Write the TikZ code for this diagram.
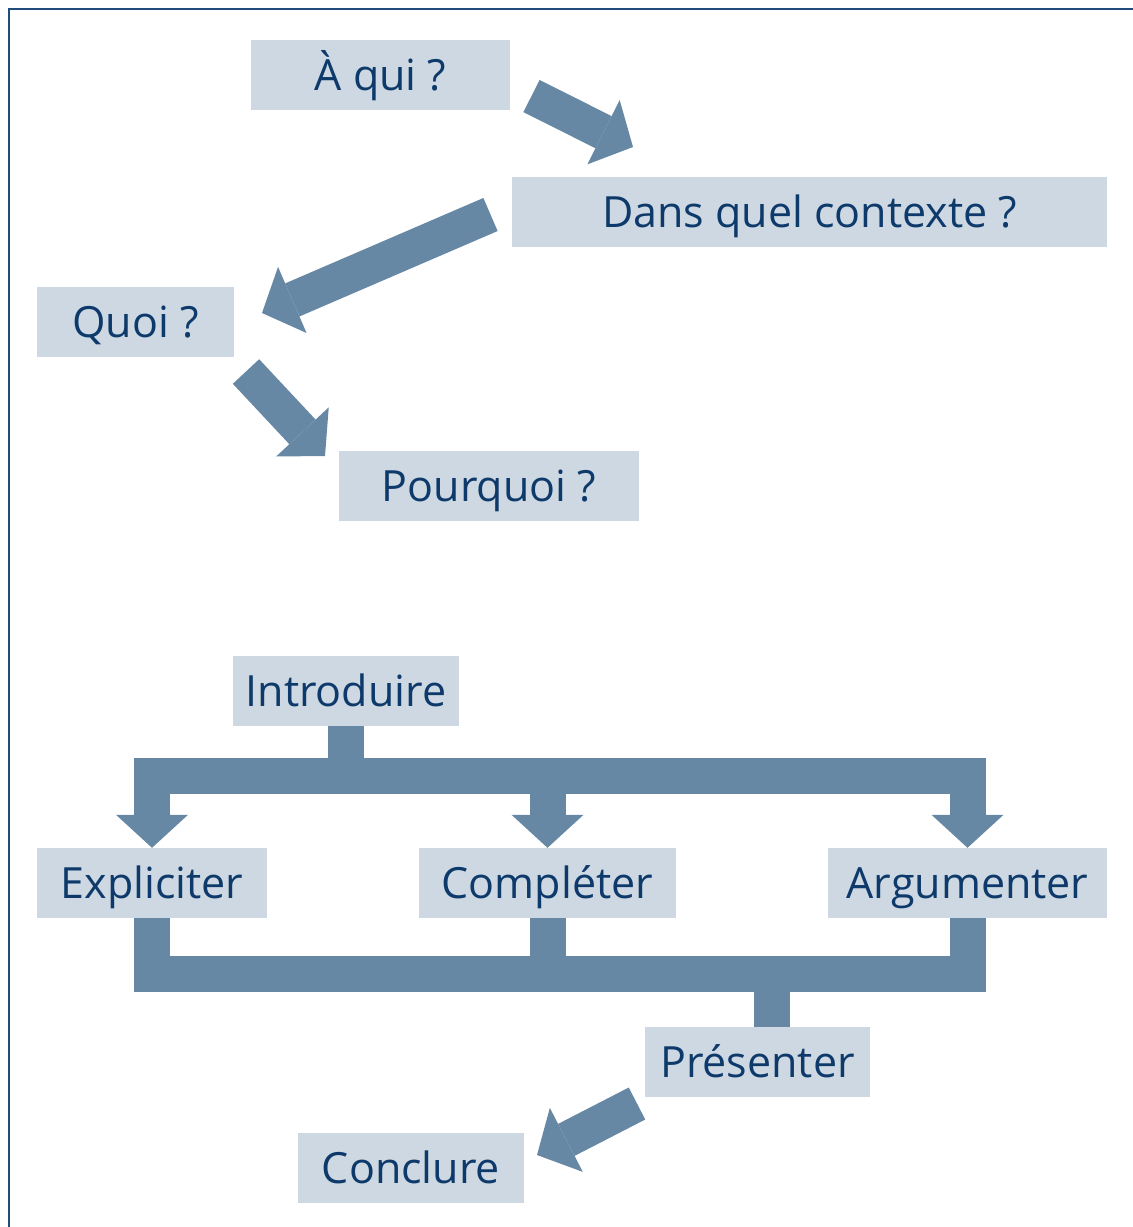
\documentclass[tikz,border=0pt]{standalone}
\usepackage{fontspec}
\setmainfont{Open Sans}
\usetikzlibrary{arrows.meta}
\definecolor{boxfill}{HTML}{CDD8E2}
\definecolor{arrowc}{HTML}{6688A5}
\definecolor{textc}{HTML}{0E3A6B}
\definecolor{borderc}{HTML}{1F4C7A}
\tikzset{
  lbl/.style={fill=boxfill, text=textc, inner sep=0pt, minimum height=70pt,
    text height=31pt, text depth=0pt, font=\fontsize{43}{43}\selectfont},
  fat/.style={draw=arrowc, line width=36pt, line cap=butt, line join=miter,
    -{Triangle[width=72pt,length=33pt,line width=0pt]}},
  barline/.style={draw=arrowc, line width=36pt, line cap=butt, line join=miter},
  frame/.style={draw=borderc, line width=2pt},
}
\begin{document}
\begin{tikzpicture}[x=1pt,y=-1pt]
\useasboundingbox (0,0) rectangle (1133,1227);
\draw[frame] (8.5,1228) -- (8.5,8.5) -- (1134,8.5);

\node[lbl, minimum width=259pt] (aqui) at (380.5,74.5) {À qui ?};
\node[lbl, minimum width=595pt] (ctx) at (809.5,212) {Dans quel contexte ?};
\node[lbl, minimum width=197pt] (quoi) at (135.5,322) {Quoi ?};
\node[lbl, minimum width=300pt] (pq) at (489,486) {Pourquoi ?};

\node[lbl, minimum width=226pt] (intro) at (346,691) {Introduire};
\node[lbl, minimum width=230pt] (expl) at (152,883) {Expliciter};
\node[lbl, minimum width=257pt] (compl) at (547.5,883) {Compléter};
\node[lbl, minimum width=279pt] (argu) at (967.5,883) {Argumenter};
\node[lbl, minimum width=225pt] (pres) at (757.5,1062) {Présenter};
\node[lbl, minimum width=226pt] (concl) at (411,1168) {Conclure};

% free-standing arrows
\coordinate (a1s) at (531.5,96);   \coordinate (a1e) at (633,147);
\coordinate (a2s) at (490.5,214.5); \coordinate (a2e) at (262,313);
\coordinate (a3s) at (246,371.5);  \coordinate (a3e) at (325,456);
\coordinate (a4s) at (637,1103.5); \coordinate (a4e) at (537,1155);
\draw[fat] (a1s) -- (a1e);
\draw[fat] (a2s) -- (a2e);
\draw[fat] (a3s) -- (a3e);
\draw[fat] (a4s) -- (a4e);

% distribution tree
\coordinate (bar1) at (0,776);
\coordinate (bar2) at (0,974);
\draw[barline] (intro.south) -- (intro.south |- bar1);
\draw[barline, {Triangle[width=72pt,length=33pt,line width=0pt]}-{Triangle[width=72pt,length=33pt,line width=0pt]}]
  (expl.north) -- (expl.north |- bar1) -- (argu.north |- bar1) -- (argu.north);
\draw[fat] (compl.north |- bar1) -- (compl.north);

% gathering tree
\draw[barline] (expl.south) -- (expl.south |- bar2) -- (argu.south |- bar2) -- (argu.south);
\draw[barline] (compl.south) -- (compl.south |- bar2);
\coordinate (pstem) at ([xshift=14pt]pres.north);
\draw[barline] (pstem |- bar2) -- (pstem);
\end{tikzpicture}
\end{document}
